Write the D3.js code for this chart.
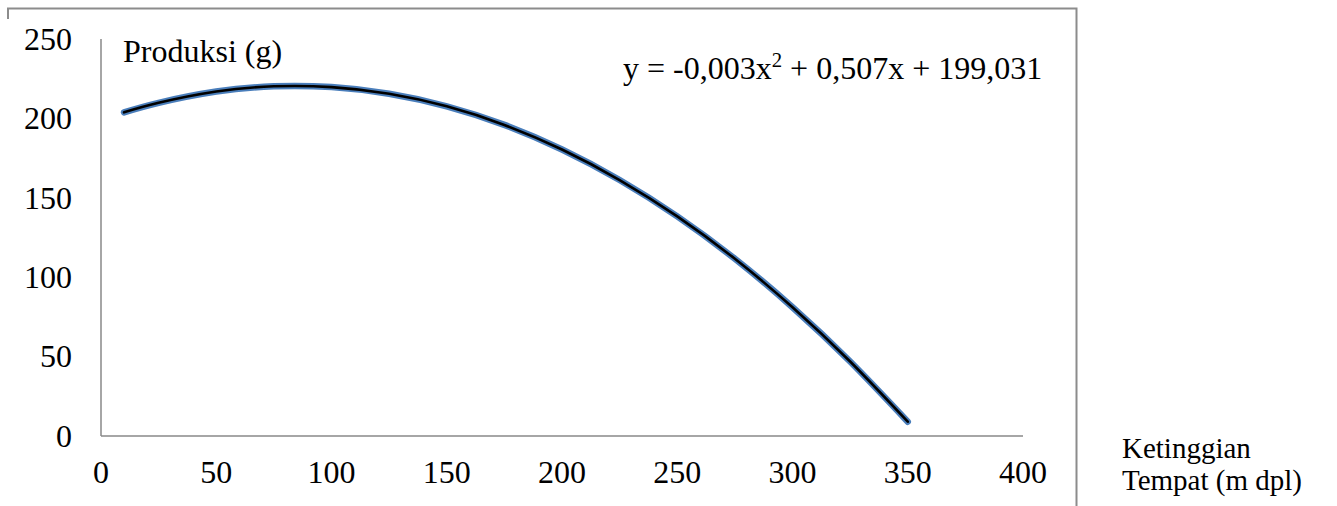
<!DOCTYPE html>
<html>
<head>
<meta charset="utf-8">
<script src="https://cdn.jsdelivr.net/npm/d3@7"></script>
<style>
  html, body { margin: 0; padding: 0; background: #fff; }
  svg text { font-family: "Liberation Serif", "Times New Roman", serif; fill: #000; }
</style>
</head>
<body>
<svg id="chart" width="1337" height="506"></svg>
<script>
// Data
const xValues = [10, 25, 50, 75, 100, 125, 150, 175, 200, 225, 250, 275, 300, 325, 350];
const yValues = [203.8, 209.8, 216.9, 220.2, 219.7, 215.5, 207.6, 195.9, 180.4, 161.2, 138.3, 111.6, 81.1, 46.9, 9.0];
const xTicks = [0, 50, 100, 150, 200, 250, 300, 350, 400];
const yTicks = [0, 50, 100, 150, 200, 250];
const yAxisTitle = "Produksi (g)";
const xAxisTitle = ["Ketinggian", "Tempat (m dpl)"];
const equation = { pre: "y = -0,003x", sup: "2", post: " + 0,507x + 199,031" };

const svg = d3.select("#chart");
const FS = 32;
const axisColor = "#898989";

const x = d3.scaleLinear().domain([0, 400]).range([101, 1023]);
const y = d3.scaleLinear().domain([0, 250]).range([436, 39]);

// outer chart frame (cropped)
svg.append("path")
  .attr("d", "M8,19 L8,8.5 L1076.5,8.5 L1076.5,506")
  .attr("fill", "none").attr("stroke", "#8c8c8c").attr("stroke-width", 2);

// axes lines
svg.append("line").attr("x1", x(0)).attr("x2", x(0)).attr("y1", y(250)).attr("y2", y(0))
  .attr("stroke", axisColor).attr("stroke-width", 1.5);
svg.append("line").attr("x1", x(0)).attr("x2", x(400)).attr("y1", y(0)).attr("y2", y(0))
  .attr("stroke", axisColor).attr("stroke-width", 1.5);

// y tick labels
svg.append("g").selectAll("text").data(yTicks).join("text")
  .attr("x", 72).attr("y", d => y(d)).attr("dy", "0.34em")
  .attr("text-anchor", "end").attr("font-size", FS)
  .text(d => d);

// x tick labels
svg.append("g").selectAll("text").data(xTicks).join("text")
  .attr("x", d => x(d)).attr("y", y(0) + 47)
  .attr("text-anchor", "middle").attr("font-size", FS)
  .text(d => d);

// series line
const data = xValues.map((v, i) => ({ x: v, y: yValues[i] }));
const line = d3.line().x(d => x(d.x)).y(d => y(d.y)).curve(d3.curveNatural);
svg.append("path").datum(data).attr("d", line)
  .attr("fill", "none").attr("stroke", "#4a7ebb").attr("stroke-width", 6.5)
  .attr("stroke-linecap", "round").attr("stroke-linejoin", "round");
svg.append("path").datum(data).attr("d", line)
  .attr("fill", "none").attr("stroke", "#000").attr("stroke-width", 2.6)
  .attr("stroke-linecap", "round").attr("stroke-linejoin", "round");

// axis titles
svg.append("text").attr("x", 123).attr("y", 62).attr("font-size", FS).text(yAxisTitle);
svg.append("g").selectAll("text").data(xAxisTitle).join("text")
  .attr("x", 1122).attr("y", (d, i) => 458 + i * 32)
  .attr("font-size", 29).text(d => d);

// equation
const eq = svg.append("text").attr("x", 623).attr("y", 79).attr("font-size", FS);
eq.append("tspan").text(equation.pre);
eq.append("tspan").attr("font-size", FS * 0.65).attr("dy", -12).text(equation.sup);
eq.append("tspan").attr("dy", 12).text(equation.post);
</script>
</body>
</html>
